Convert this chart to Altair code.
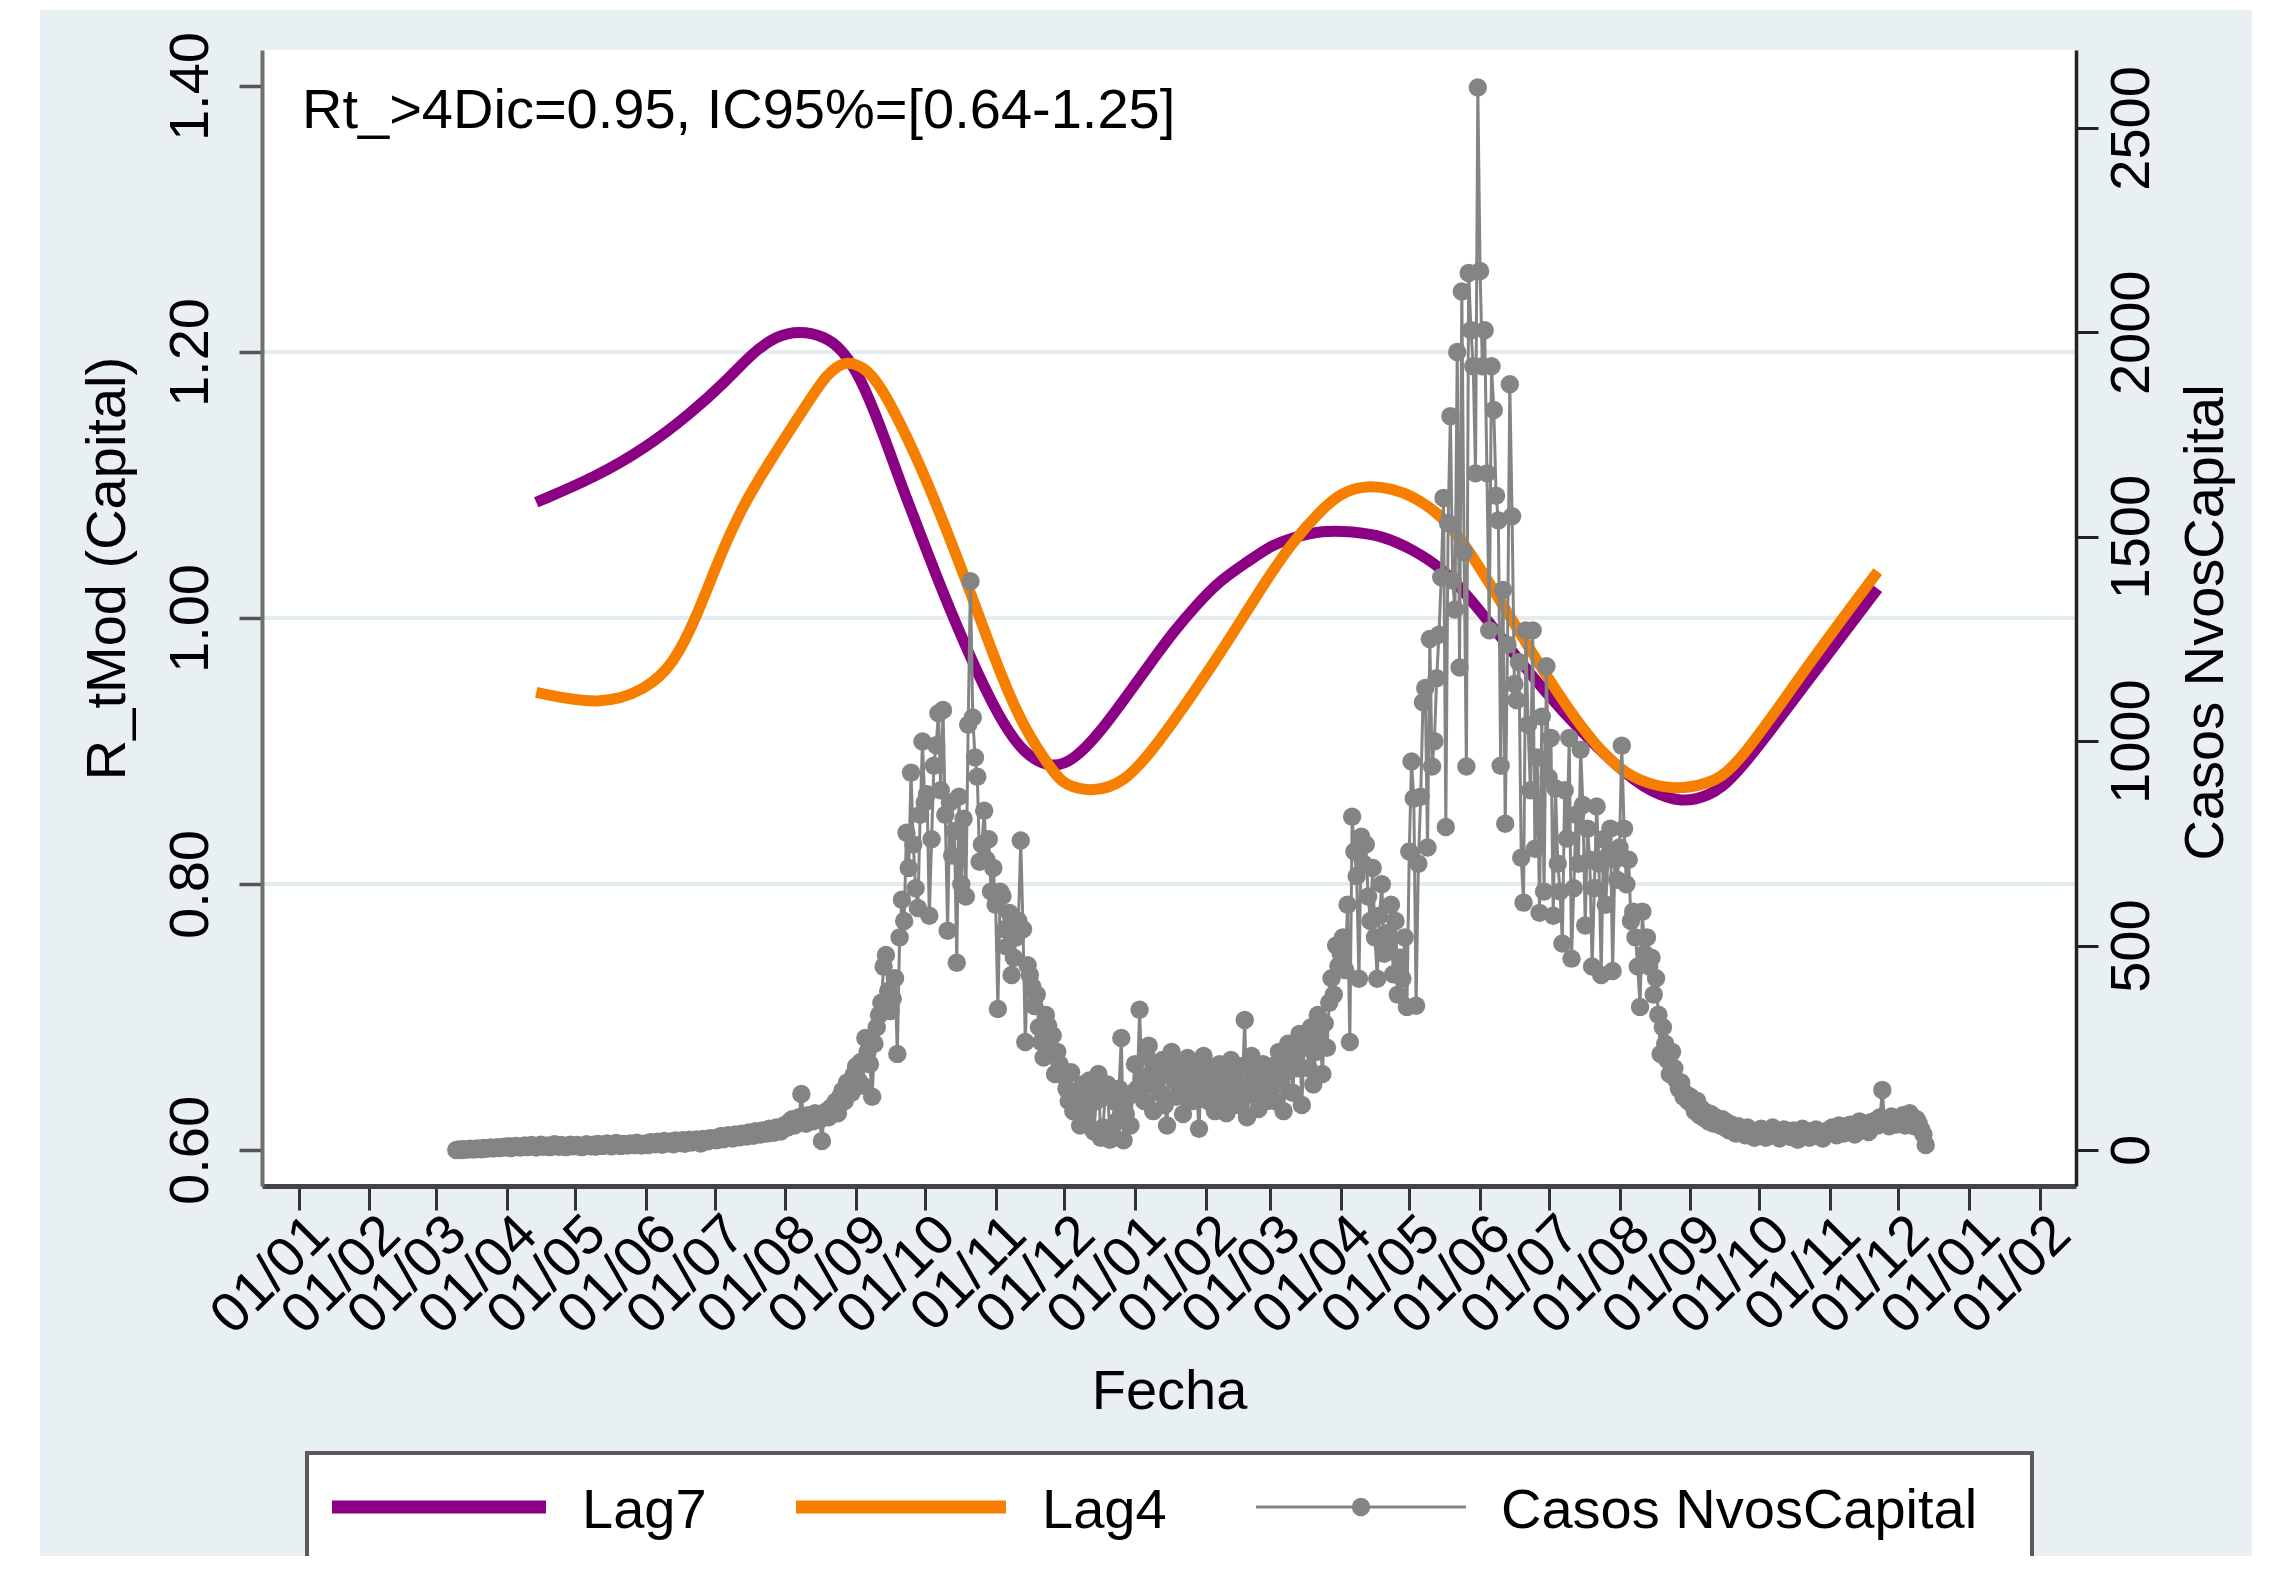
import altair as alt
import pandas as pd

# ---------------- data ----------------
lag7_fechas = ["2020-04-14", "2020-05-10", "2020-06-01", "2020-06-20", "2020-07-06", "2020-07-18",
               "2020-07-28", "2020-08-07", "2020-08-18", "2020-08-26", "2020-09-03", "2020-09-11",
               "2020-09-21", "2020-09-28", "2020-10-12", "2020-11-01", "2020-11-14", "2020-11-26",
               "2020-12-05", "2020-12-16", "2021-01-01", "2021-01-09", "2021-01-18", "2021-01-28",
               "2021-02-07", "2021-02-19", "2021-03-01", "2021-03-10", "2021-03-24", "2021-04-06",
               "2021-04-19", "2021-05-02", "2021-05-15", "2021-05-28", "2021-06-30", "2021-08-02",
               "2021-08-15", "2021-08-28", "2021-09-09", "2021-09-20", "2021-10-22", "2021-11-22"]
lag7_valores = [1.087, 1.106, 1.128, 1.153, 1.178, 1.200,
                1.212, 1.216, 1.212, 1.202, 1.180, 1.147,
                1.099, 1.068, 1.005, 0.928, 0.896, 0.887,
                0.893, 0.912, 0.950, 0.969, 0.990, 1.010,
                1.028, 1.042, 1.054, 1.060, 1.066, 1.065,
                1.062, 1.052, 1.038, 1.015, 0.941, 0.884,
                0.869, 0.861, 0.866, 0.878, 0.952, 1.022]

lag4_fechas = ["2020-04-14", "2020-05-12", "2020-06-01", "2020-06-13", "2020-06-23", "2020-07-03",
               "2020-07-13", "2020-07-23", "2020-08-12", "2020-08-19", "2020-08-27", "2020-09-04",
               "2020-09-11", "2020-09-28", "2020-10-12", "2020-10-23", "2020-11-03", "2020-11-14",
               "2020-11-26", "2020-12-01", "2020-12-14", "2020-12-27", "2021-01-09", "2021-02-07",
               "2021-02-22", "2021-03-11", "2021-03-24", "2021-04-01", "2021-04-12", "2021-04-24",
               "2021-05-02", "2021-05-15", "2021-05-28", "2021-06-23", "2021-07-17", "2021-08-02",
               "2021-08-14", "2021-08-26", "2021-09-08", "2021-09-20", "2021-10-22", "2021-11-22"]
lag4_valores = [0.944, 0.934, 0.946, 0.965, 1.000, 1.045,
                1.083, 1.112, 1.165, 1.183, 1.194, 1.189,
                1.178, 1.120, 1.060, 1.010, 0.958, 0.915,
                0.885, 0.874, 0.869, 0.876, 0.900, 0.972,
                1.014, 1.058, 1.082, 1.094, 1.100, 1.097,
                1.092, 1.078, 1.050, 0.975, 0.912, 0.884,
                0.875, 0.871, 0.875, 0.884, 0.964, 1.035]

# daily new cases, one list per month (first date of each list given below)
casos_2020_03 = [0, 1, 0, 2, 1, 1, 3, 2, 2, 4, 3, 2, 5, 3, 4, 6, 4, 5, 7, 5, 6, 8]
casos_2020_04 = [6, 9, 5, 7, 10, 8, 6, 9, 11, 7, 8, 12, 9, 6, 10, 13, 8, 9, 11, 7, 10, 14, 9, 8, 12, 10, 7, 11, 13, 9]
casos_2020_05 = [10, 12, 8, 7, 11, 14, 10, 9, 13, 8, 15, 12, 10, 14, 16, 11, 9, 13, 17, 12, 10, 15, 14, 11, 16, 13, 12, 18, 15, 11, 14]
casos_2020_06 = [16, 12, 19, 15, 14, 20, 17, 13, 22, 16, 18, 21, 14, 23, 19, 17, 24, 15, 21, 25, 18, 22, 26, 19, 16, 27, 23, 21, 29, 25]
casos_2020_07 = [28, 24, 32, 34, 26, 30, 36, 33, 28, 38, 35, 31, 40, 37, 33, 43, 39, 35, 46, 42, 38, 48, 44, 40, 52, 47, 42, 55, 50, 45, 58]
casos_2020_08 = [62, 55, 70, 75, 60, 66, 80, 137, 72, 64, 85, 78, 70, 90, 82, 74, 22, 88, 95, 80, 104, 96, 118, 90, 130, 145, 120, 165, 150, 140, 185]
casos_2020_09 = [205, 170, 215, 157, 274, 240, 210, 130, 260, 300, 330, 360, 448, 477, 389, 340, 370, 420, 235, 520, 612, 560, 776, 690, 923, 747, 640, 592, 820, 999]
casos_2020_10 = [850, 870, 573, 760, 940, 990, 1068, 880, 1076, 820, 536, 850, 720, 780, 458, 864, 650, 810, 620, 1040, 1391, 1058, 960, 913, 705, 747, 830, 710, 760, 632, 690]
casos_2020_11 = [600, 345, 632, 621, 540, 497, 580, 428, 470, 520, 560, 757, 540, 264, 452, 428, 400, 352, 380, 300, 264, 226, 330, 304, 250, 280, 186, 240, 210, 198]
casos_2020_12 = [180, 150, 120, 190, 95, 140, 110, 60, 160, 130, 85, 170, 145, 45, 120, 186, 30, 55, 135, 160, 25, 40, 118, 70, 150, 274, 24, 88, 130, 60, 140]
casos_2021_01 = [210, 150, 343, 180, 120, 230, 255, 160, 95, 200, 175, 140, 220, 110, 60, 190, 240, 170, 130, 205, 150, 88, 180, 225, 160, 120, 195, 140, 52, 175, 230]
casos_2021_02 = [160, 120, 200, 185, 95, 150, 210, 175, 130, 90, 190, 220, 145, 170, 110, 205, 160, 318, 80, 135, 230, 190, 150, 100, 175, 210, 140, 120]
casos_2021_03 = [150, 180, 120, 210, 240, 160, 95, 190, 260, 220, 140, 230, 200, 284, 110, 250, 270, 200, 300, 160, 240, 330, 280, 186, 310, 250, 360, 420, 380, 500, 450]
casos_2021_04 = [480, 520, 440, 600, 264, 815, 730, 670, 419, 766, 700, 747, 620, 560, 690, 520, 419, 573, 650, 480, 530, 496, 600, 430, 560, 380, 470, 419, 520, 350]
casos_2021_05 = [730, 950, 860, 353, 700, 864, 1095, 1130, 740, 1250, 938, 1000, 1154, 1260, 1401, 1595, 790, 1533, 1795, 1393, 1322, 1952, 1180, 2100, 1462, 938, 2145, 2005, 1917, 1655, 2599]
casos_2021_06 = [2150, 1917, 2005, 1655, 1271, 1917, 1810, 1600, 1540, 940, 1370, 798, 1236, 1873, 1550, 1140, 1100, 1193, 715, 605, 1271, 1040, 880, 1271, 737, 960, 580, 1060, 632, 1183]
casos_2021_07 = [911, 1008, 573, 884, 700, 632, 505, 880, 762, 1008, 468, 640, 820, 700, 979, 844, 549, 786, 710, 449, 641, 840, 700, 428, 760, 600, 720, 786, 438, 710, 661]
casos_2021_08 = [740, 989, 786, 650, 710, 560, 583, 520, 449, 350, 583, 480, 520, 449, 470, 380, 420, 331, 235, 300, 260, 220, 186, 240, 200, 170, 150, 165, 130, 137, 120]
casos_2021_09 = [130, 110, 95, 120, 85, 100, 78, 92, 70, 88, 65, 80, 72, 60, 75, 55, 68, 48, 62, 52, 40, 58, 45, 50, 36, 55, 42, 48, 30, 46]
casos_2021_10 = [38, 52, 44, 30, 48, 40, 55, 35, 46, 28, 42, 50, 38, 45, 32, 48, 40, 25, 44, 52, 36, 42, 30, 46, 38, 50, 34, 44, 28, 40, 48]
casos_2021_11 = [42, 55, 48, 36, 60, 52, 40, 58, 45, 62, 50, 38, 56, 70, 48, 64, 52, 44, 68, 58, 72, 60, 80, 147, 66, 75, 58, 82, 70, 62]
casos_2021_12 = [78, 68, 85, 60, 72, 90, 66, 58, 75, 64, 50, 38, 12]

casos_bloques = [
    ("2020-03-10", casos_2020_03), ("2020-04-01", casos_2020_04), ("2020-05-01", casos_2020_05),
    ("2020-06-01", casos_2020_06), ("2020-07-01", casos_2020_07), ("2020-08-01", casos_2020_08),
    ("2020-09-01", casos_2020_09), ("2020-10-01", casos_2020_10), ("2020-11-01", casos_2020_11),
    ("2020-12-01", casos_2020_12), ("2021-01-01", casos_2021_01), ("2021-02-01", casos_2021_02),
    ("2021-03-01", casos_2021_03), ("2021-04-01", casos_2021_04), ("2021-05-01", casos_2021_05),
    ("2021-06-01", casos_2021_06), ("2021-07-01", casos_2021_07), ("2021-08-01", casos_2021_08),
    ("2021-09-01", casos_2021_09), ("2021-10-01", casos_2021_10), ("2021-11-01", casos_2021_11),
    ("2021-12-01", casos_2021_12),
]

y_left_ticks = [0.60, 0.80, 1.00, 1.20, 1.40]
y_right_ticks = [0, 500, 1000, 1500, 2000, 2500]
grid_vals = [0.80, 1.00, 1.20]
anotacion = "Rt_>4Dic=0.95, IC95%=[0.64-1.25]"
legend_labels = ["Lag7", "Lag4", "Casos NvosCapital"]

# ---------------- frames ----------------
fechas_c, valores_c = [], []
for inicio, vals in casos_bloques:
    for d in pd.date_range(inicio, periods=len(vals), freq="D"):
        fechas_c.append(d.strftime("%Y-%m-%d"))
    valores_c += vals
df_casos = pd.DataFrame({"fecha": fechas_c, "casos": valores_c})
df7 = pd.DataFrame({"fecha": lag7_fechas, "r": lag7_valores})
df4 = pd.DataFrame({"fecha": lag4_fechas, "r": lag4_valores})
one = pd.DataFrame({"a": [0]})

# ---------------- style ----------------
W, H = 1814, 1136
FONT = "Liberation Sans"
FS = 56
PURPLE = "#8c0083"
ORANGE = "#f77f00"
GRAY = "#848484"
BLUISH = "#e8f0f3"

left_dom = [0.5729, 1.4271]
right_dom = [-88.1, 2690.5]

tick_vals = []
for y in (2020, 2021, 2022):
    for m in range(1, 13):
        if y == 2022 and m > 2:
            break
        tick_vals.append(alt.DateTime(year=y, month=m, date=1, utc=True))

x_scale = alt.Scale(type="utc", domain=[alt.DateTime(year=2019, month=12, date=16, utc=True),
                                         alt.DateTime(year=2022, month=2, date=16, hours=18, utc=True)])
x_axis = alt.Axis(values=tick_vals, labelExpr="utcFormat(datum.value, '%d/%m')", labelAngle=-45,
                  labelAlign="right", labelBaseline="middle", labelFontSize=FS, labelFont=FONT,
                  labelColor="black", labelPadding=15, labelOffset=21, labelFlush=False,
                  labelOverlap=False, labelBound=False, labelLimit=600, tickSize=24, tickWidth=3,
                  tickColor="#333333", domainColor="#444444", domainWidth=5, grid=False,
                  title="Fecha", titleFont=FONT, titleFontSize=FS, titleFontWeight="normal",
                  titleColor="black", titleX=W / 2, titleY=222, titleAlign="center",
                  titleBaseline="alphabetic", zindex=1)
X = alt.X("fecha:T", scale=x_scale, axis=x_axis)

left_axis = alt.Axis(orient="left", values=y_left_ticks, format=".2f", labelAngle=270,
                     labelAlign="center", labelBaseline="alphabetic", labelPadding=32,
                     labelFontSize=FS, labelFont=FONT, labelColor="black", labelFlush=False,
                     labelOverlap=False, tickSize=23, tickWidth=3.5, tickColor="#555555",
                     domainColor="#707070", domainWidth=4, grid=False, title="R_tMod (Capital)",
                     titleAngle=270, titleX=-138, titleY=518, titleAlign="center",
                     titleBaseline="alphabetic", titleFont=FONT, titleFontSize=FS,
                     titleFontWeight="normal", titleColor="black", zindex=1)
right_axis = alt.Axis(orient="right", values=y_right_ticks, format="d", labelAngle=270,
                      labelAlign="center", labelBaseline="alphabetic", labelPadding=50,
                      labelFontSize=FS, labelFont=FONT, labelColor="black", labelFlush=False,
                      labelOverlap=False, tickSize=22, tickWidth=3, tickColor="#222222",
                      domainColor="#222222", domainWidth=3.5, grid=False, title="Casos NvosCapital",
                      titleAngle=270, titleX=146, titleY=572, titleAlign="center",
                      titleBaseline="alphabetic", titleFont=FONT, titleFontSize=FS,
                      titleFontWeight="normal", titleColor="black", zindex=1)

Y_left = alt.Y("r:Q", scale=alt.Scale(domain=left_dom, nice=False, zero=False), axis=left_axis)
Y_right = alt.Y("casos:Q", scale=alt.Scale(domain=right_dom, nice=False, zero=False), axis=right_axis)

# ---------------- layers ----------------
bg = alt.Chart(one).mark_rect(color=BLUISH).encode(
    x=alt.value(-222), x2=alt.value(1990), y=alt.value(-40), y2=alt.value(H + 370))
plotbg = alt.Chart(one).mark_rect(color="white").encode(
    x=alt.value(0), x2=alt.value(W), y=alt.value(0), y2=alt.value(H))

grid = alt.Chart(pd.DataFrame({"g": grid_vals})).mark_rule(color="#e3ecf0", strokeWidth=4).encode(
    y=alt.Y("g:Q", scale=alt.Scale(domain=left_dom, nice=False, zero=False), axis=None))

l7 = alt.Chart(df7).mark_line(color=PURPLE, strokeWidth=11, interpolate="basis").encode(x=X, y=Y_left)
l4 = alt.Chart(df4).mark_line(color=ORANGE, strokeWidth=11, interpolate="basis").encode(x=X, y=Y_left)
curvas = alt.layer(l7, l4)

c_line = alt.Chart(df_casos).mark_line(color=GRAY, strokeWidth=3).encode(x=X, y=Y_right)
c_pts = alt.Chart(df_casos).mark_circle(color=GRAY, size=340, opacity=1).encode(x=X, y=Y_right)
casos = alt.layer(c_line, c_pts)

annot = alt.Chart(one).mark_text(align="left", baseline="alphabetic", font=FONT, fontSize=FS,
                                 color="black").encode(
    x=alt.value(40), y=alt.value(78), text=alt.value(anotacion))

# legend (drawn manually, Stata style)
leg_box = alt.Chart(one).mark_rect(fill="white", stroke="#5a5a5a", strokeWidth=4).encode(
    x=alt.value(45), x2=alt.value(1770), y=alt.value(1403), y2=alt.value(1510))
leg_l7 = alt.Chart(one).mark_rule(color=PURPLE, strokeWidth=13).encode(
    x=alt.value(70), x2=alt.value(284), y=alt.value(1457))
leg_l4 = alt.Chart(one).mark_rule(color=ORANGE, strokeWidth=13).encode(
    x=alt.value(534), x2=alt.value(744), y=alt.value(1457))
leg_c = alt.Chart(one).mark_rule(color=GRAY, strokeWidth=3).encode(
    x=alt.value(994), x2=alt.value(1204), y=alt.value(1457))
leg_cp = alt.Chart(one).mark_circle(color=GRAY, size=340, opacity=1).encode(
    x=alt.value(1099), y=alt.value(1457))
leg_txt = []
for lab, xpos in zip(legend_labels, [320, 780, 1239]):
    leg_txt.append(alt.Chart(one).mark_text(align="left", baseline="alphabetic", font=FONT,
                                            fontSize=FS, color="black").encode(
        x=alt.value(xpos), y=alt.value(1478), text=alt.value(lab)))

chart = alt.layer(bg, plotbg, grid, curvas, casos, annot, leg_box, leg_l7, leg_l4, leg_c, leg_cp,
                  *leg_txt).resolve_scale(y="independent").properties(
    width=W, height=H,
    autosize=alt.AutoSizeParams(type="none"),
    padding={"left": 254, "top": 42, "right": 180, "bottom": 370},
    background="white",
).configure_view(strokeWidth=0).configure(font=FONT)

chart.save("out.html", embed_options={"renderer": "svg", "actions": False})
